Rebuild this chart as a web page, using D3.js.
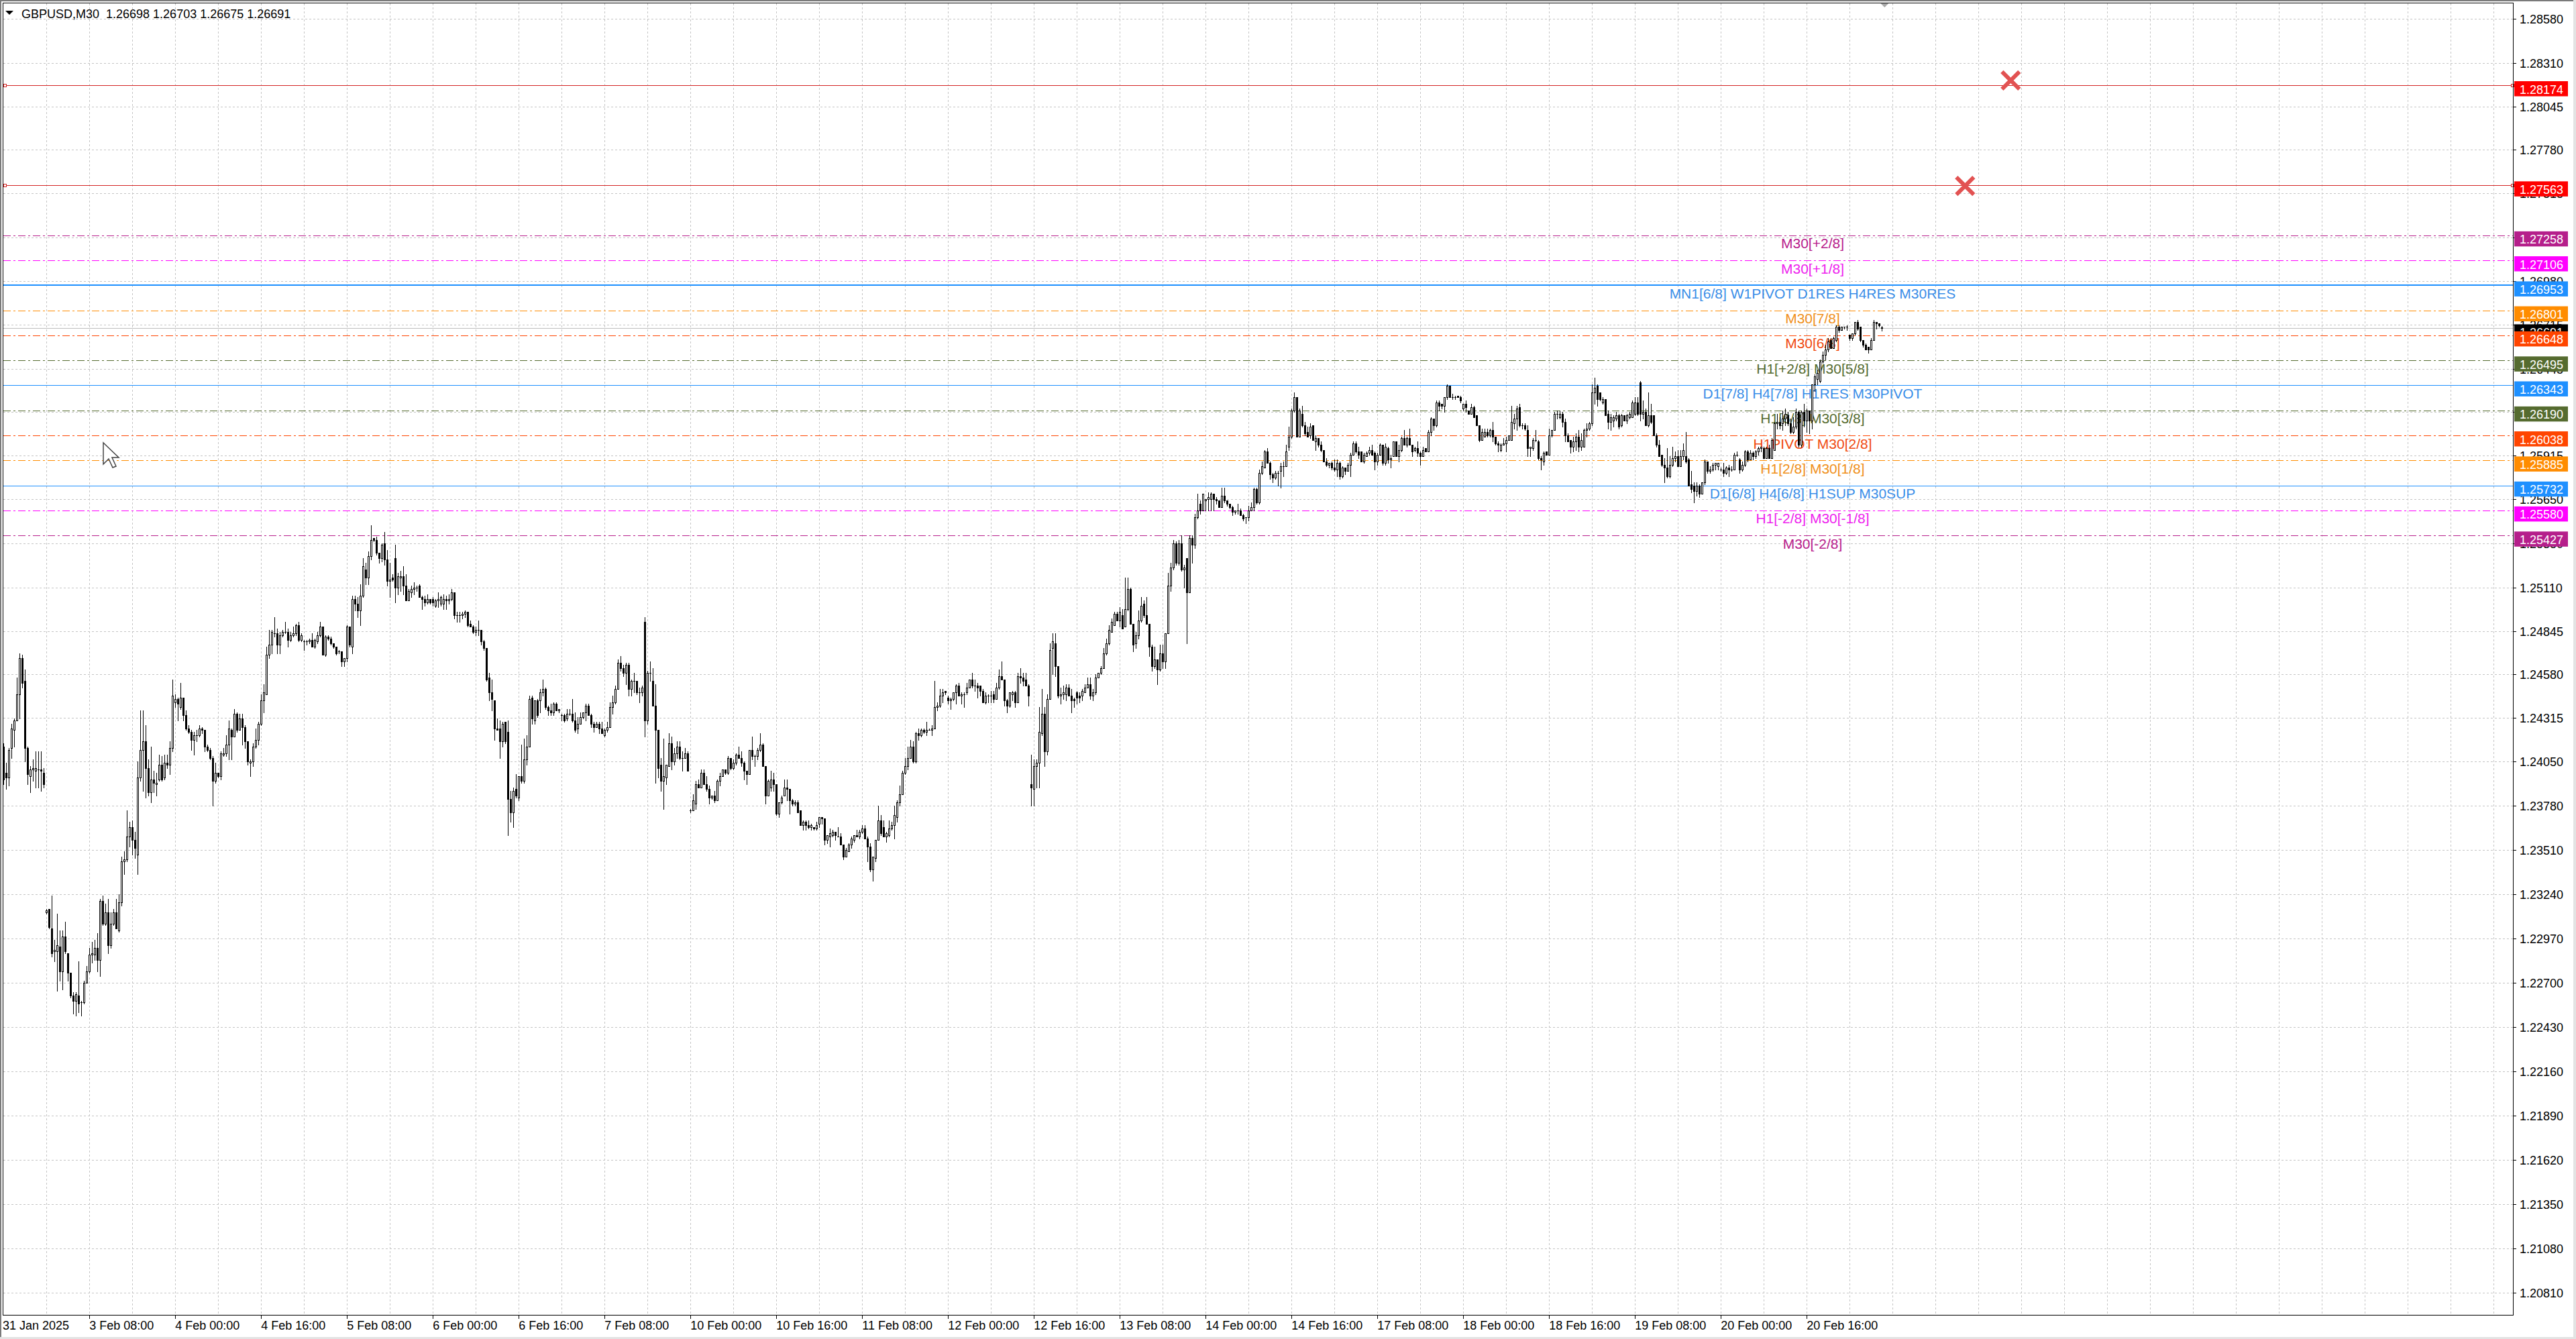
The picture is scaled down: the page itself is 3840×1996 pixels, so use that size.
<!DOCTYPE html>
<html><head><meta charset="utf-8">
<script src="https://cdn.jsdelivr.net/npm/d3@7/dist/d3.min.js"></script>
<style>html,body{margin:0;padding:0;background:#fff;overflow:hidden}svg{display:block}</style>
</head><body>
<svg id="chart" width="3840" height="1996"></svg>
<script>
// ---------------- DATA ----------------
const titleText = "GBPUSD,M30  1.26698 1.26703 1.26675 1.26691";
const timeLabels = ["31 Jan 2025","3 Feb 08:00","4 Feb 00:00","4 Feb 16:00","5 Feb 08:00","6 Feb 00:00","6 Feb 16:00","7 Feb 08:00","10 Feb 00:00","10 Feb 16:00","11 Feb 08:00","12 Feb 00:00","12 Feb 16:00","13 Feb 08:00","14 Feb 00:00","14 Feb 16:00","17 Feb 08:00","18 Feb 00:00","18 Feb 16:00","19 Feb 08:00","20 Feb 00:00","20 Feb 16:00"];
const timeLabelBars = [0,32,64,96,128,160,192,224,256,288,320,352,384,416,448,480,512,544,576,608,640,672];
const priceTicks = [1.28580,1.28310,1.28045,1.27780,1.27515,1.27245,1.26980,1.26715,1.26445,1.26180,1.25915,1.25650,1.25380,1.25110,1.24845,1.24580,1.24315,1.24050,1.23780,1.23510,1.23240,1.22970,1.22700,1.22430,1.22160,1.21890,1.21620,1.21350,1.21080,1.20810];
const levelPrices = [1.28174,1.27563,1.27258,1.27106,1.26953,1.26801,1.26648,1.26495,1.26343,1.26190,1.26038,1.25885,1.25732,1.25580,1.25427];
const levelNames = ["","","M30[+2/8]","M30[+1/8]","MN1[6/8] W1PIVOT D1RES H4RES M30RES","M30[7/8]","M30[6/8]","H1[+2/8] M30[5/8]","D1[7/8] H4[7/8] H1RES M30PIVOT","H1[6/8] M30[3/8]","H1PIVOT M30[2/8]","H1[2/8] M30[1/8]","D1[6/8] H4[6/8] H1SUP M30SUP","H1[-2/8] M30[-1/8]","M30[-2/8]"];
const levelKinds = ["red","red","mvr","mag","blueThick","orange","orangeRed","olive","blue","olive","orangeRed","orange","blue","mag","mvr"];
const lastPrice = 1.26691;
const crossMarkBars = [748,731];
const crossMarkPrices = [1.28203,1.27560];
// candle prices in pips above 1.2000 (bar 0 = 31 Jan 16:00, M30)
const opens = [
414,398,395,413,424,430,446,468,454,413,396,400,399,400,400,398,313,315,303,289,
289,292,277,298,288,276,262,259,262,258,258,270,277,287,287,291,284,320,306,313,
293,306,313,302,319,344,345,359,365,357,348,395,412,417,401,386,394,391,394,403,
395,404,403,413,441,443,438,444,433,425,423,418,421,421,425,424,414,412,407,393,
398,396,409,410,415,424,420,434,424,431,426,417,404,405,414,418,428,442,446,470,
476,483,483,476,482,484,484,479,482,483,488,479,478,478,478,479,475,478,482,487,
470,481,480,477,475,472,472,466,468,487,475,504,501,497,506,522,517,530,541,540,
532,529,538,528,515,517,529,511,517,518,512,503,508,510,511,512,505,504,502,504,
504,500,503,501,501,504,503,504,508,494,494,494,495,496,489,487,484,485,485,478,
474,456,447,442,425,425,417,429,423,382,374,388,383,396,393,406,414,444,430,442,
442,447,449,438,436,435,440,436,433,433,431,434,434,430,425,428,432,435,439,433,
428,426,428,425,421,424,426,438,441,449,465,462,459,464,449,454,454,447,447,490,
430,459,454,439,424,403,393,395,402,416,405,410,414,407,407,410,375,375,379,391,
389,398,391,388,383,384,381,393,396,400,398,407,401,404,409,407,404,399,397,412,
408,408,412,415,402,384,389,394,391,373,380,384,389,388,381,379,380,375,366,368,
366,365,365,364,367,371,370,357,359,360,362,359,359,354,347,350,354,357,360,359,
362,364,358,353,339,346,357,369,365,359,360,364,366,371,380,385,398,402,407,414,
405,422,421,424,423,424,424,425,438,439,445,448,444,442,443,447,451,445,446,447,
450,455,451,451,451,448,441,445,445,446,443,450,457,455,442,439,446,447,441,457,
456,455,451,391,388,402,404,422,434,411,443,474,477,463,445,446,446,450,445,443,
447,445,445,447,450,452,445,447,456,459,462,471,477,484,488,495,491,494,487,498,
510,489,477,482,491,501,494,489,475,463,467,461,471,466,483,512,523,538,526,538,
522,529,508,541,537,554,562,558,564,565,565,568,565,564,560,567,564,562,560,557,
558,558,555,554,554,558,560,571,563,581,584,594,587,580,578,581,582,585,585,597,
603,619,627,603,617,610,606,604,610,600,602,598,595,588,586,587,584,583,587,579,
584,582,586,592,599,594,594,588,591,593,595,593,588,592,598,587,596,589,591,600,
591,595,602,598,602,598,595,596,593,591,596,594,606,614,610,624,623,622,627,634,
627,627,628,627,620,623,619,617,621,616,610,601,603,606,604,607,603,599,595,598,
599,601,601,611,614,621,610,610,607,596,596,601,600,590,588,594,592,604,607,617,
615,617,612,604,601,597,600,603,597,597,607,608,611,630,634,630,624,626,617,612,
613,614,616,610,616,613,615,615,617,624,636,617,618,610,616,616,604,598,592,586,
584,579,586,590,591,585,591,591,589,574,573,570,573,568,575,588,582,583,586,585,
583,583,581,584,583,583,592,589,583,586,594,589,593,591,594,596,596,590,596,590,
595,611,612,611,614,616,611,606,609,618,598,618,613,619,613,635,638,637,649,653,
656,662,657,662,670,668,670,670,665,663,666,673,670,662,659,658,656,662,673,672,
669.8];
const highs = [
416,404,413,428,431,456,471,470,461,414,402,406,411,411,411,401,315,315,323,296,
312,302,302,307,288,276,264,264,283,259,271,280,291,295,296,300,321,323,318,321,
313,315,321,324,347,350,375,368,369,362,405,436,436,427,406,414,399,398,409,408,
409,409,417,455,446,444,453,444,436,427,424,423,424,427,426,424,415,413,408,404,
398,411,413,421,430,425,437,435,434,434,427,417,406,416,425,429,446,452,475,485,
485,493,486,484,485,490,486,484,487,489,490,483,479,479,480,483,480,484,490,487,
482,482,481,477,475,473,472,468,488,487,506,506,505,513,529,526,533,549,541,542,
532,538,545,534,526,519,537,520,521,524,519,510,512,514,512,513,506,506,507,504,
505,504,508,506,507,506,507,510,508,496,496,496,497,496,491,488,487,491,485,479,
474,459,455,442,431,430,429,429,430,387,389,397,396,415,419,421,445,445,442,443,
449,455,450,439,440,441,441,437,434,434,437,437,443,435,432,435,435,440,440,434,
429,429,429,429,425,429,441,445,451,467,469,464,465,465,455,459,454,450,451,493,
460,466,462,452,424,407,419,403,422,420,413,417,417,411,413,411,376,385,393,394,
400,400,396,390,384,387,394,398,400,400,408,407,406,410,414,411,405,399,412,420,
409,413,422,416,402,394,399,398,391,380,384,394,394,388,382,381,381,375,369,369,
369,367,365,368,371,371,370,360,364,363,362,365,361,354,352,355,359,360,363,363,
366,366,359,355,347,357,378,372,369,362,369,368,378,381,390,399,407,414,418,417,
423,425,425,425,429,425,427,454,441,449,449,448,445,444,447,452,453,447,447,453,
455,459,455,453,451,449,447,446,448,448,453,461,466,455,443,447,448,448,459,462,
459,459,452,409,406,406,438,449,438,446,477,483,483,463,450,451,452,452,449,444,
448,447,449,452,456,456,449,458,459,463,474,480,488,492,496,496,499,498,517,517,
511,489,484,497,505,503,505,489,476,475,467,476,476,483,520,526,540,539,540,543,
525,529,543,543,556,568,564,568,565,569,569,568,566,564,572,572,564,562,561,558,
562,559,556,554,561,563,572,572,583,588,595,596,588,581,582,582,587,588,598,609,
620,630,627,620,622,612,609,611,610,604,602,600,595,590,587,588,589,589,588,585,
584,587,593,600,600,597,594,593,594,597,598,594,593,599,598,599,597,592,600,600,
598,603,607,603,608,598,597,600,594,597,596,607,615,614,625,625,623,627,635,634,
629,628,628,628,623,625,619,623,622,616,610,608,608,608,608,612,603,600,599,602,
603,604,622,617,622,623,611,611,610,597,602,607,601,591,594,594,608,607,618,619,
619,618,614,605,601,603,605,607,605,608,611,612,635,639,635,630,627,626,619,617,
616,618,617,617,616,617,618,625,627,627,637,625,620,630,623,616,605,601,592,590,
596,591,597,594,595,595,599,606,590,582,575,575,574,575,589,588,585,587,587,587,
584,587,585,586,585,593,594,590,588,595,595,595,594,595,597,597,597,597,598,602,
612,617,615,619,620,618,614,615,620,619,619,623,620,619,635,641,644,650,655,659,
663,663,664,671,671,670,670,671,665,666,673,674,670,662,660,658,663,674,673,672,
670.3];
const lows = [
391,388,390,407,414,430,431,450,405,391,386,393,389,389,387,389,312,303,286,283,
265,271,266,288,271,261,251,250,252,250,257,270,276,282,284,277,274,305,305,288,
291,305,303,301,317,336,344,353,348,346,336,393,387,383,384,380,386,384,393,393,
394,401,397,411,438,430,437,430,424,422,412,409,417,420,422,411,411,406,378,392,
395,394,408,408,406,406,420,423,424,415,413,403,396,402,413,415,427,435,446,468,
471,481,471,471,481,483,475,478,481,482,478,478,473,476,477,475,474,477,481,470,
469,479,476,474,470,471,463,463,466,475,471,497,493,488,505,513,513,528,539,531,
526,527,525,512,505,515,502,507,509,507,503,503,505,507,509,505,498,500,501,501,
500,499,499,500,498,498,501,503,492,490,490,492,493,487,487,483,482,482,476,473,
454,442,436,418,424,407,414,416,360,368,365,383,381,392,392,403,414,428,428,432,
435,445,437,433,433,433,436,435,430,429,430,433,429,423,422,428,431,430,433,426,
423,426,422,422,420,423,426,434,440,449,460,457,452,445,445,447,446,441,445,420,
428,454,439,392,395,387,376,391,402,400,403,407,406,399,407,399,374,375,376,389,
389,391,387,379,382,380,381,390,396,397,397,400,400,403,407,402,394,391,397,406,
402,406,411,402,379,384,387,387,372,371,379,384,381,373,378,378,374,366,363,363,
364,363,363,363,365,367,354,355,353,359,357,359,354,345,347,350,352,356,359,358,
361,358,344,338,332,344,357,360,359,356,359,363,358,368,378,385,397,400,407,404,
404,418,420,422,421,424,421,425,436,438,441,446,440,437,442,440,445,440,438,446,
450,450,448,444,445,441,440,441,441,441,443,449,455,439,435,438,442,438,441,453,
451,451,439,378,378,389,389,421,402,409,443,458,457,444,440,443,442,445,435,438,
440,441,442,447,450,443,442,446,456,458,462,470,476,484,488,491,487,486,487,497,
489,472,474,480,490,493,489,469,460,462,452,460,462,462,483,509,522,525,525,521,
511,477,508,526,535,553,556,558,558,558,558,558,562,560,560,563,561,559,555,556,
556,555,552,550,552,558,558,562,562,580,584,587,577,575,577,573,572,579,585,595,
602,618,603,603,609,604,603,602,601,595,597,594,588,585,584,583,582,579,577,578,
580,582,579,592,593,590,588,587,591,592,592,583,586,592,586,586,587,584,591,591,
588,594,598,597,598,591,594,591,586,591,594,594,604,607,609,619,620,618,626,627,
626,626,627,624,619,618,617,617,615,610,600,601,603,603,603,600,598,594,594,598,
594,601,601,608,607,609,608,607,591,591,595,600,589,583,586,592,592,603,607,614,
614,609,600,600,593,594,595,594,595,597,603,607,610,623,622,625,623,616,608,607,
609,613,608,609,613,611,614,615,616,616,613,614,610,609,611,604,597,591,585,575,
578,578,585,588,585,585,589,587,573,569,563,567,566,568,574,581,581,582,583,583,
582,579,580,579,582,583,591,581,582,585,588,589,589,590,592,594,590,590,590,590,
595,608,608,607,610,610,605,605,608,597,597,609,606,605,608,631,635,636,648,650,
655,657,657,661,667,668,669,668,662,662,665,668,661,658,656,654,656,662,669,670,
667.5];
const closes = [
394,395,412,425,430,446,468,453,413,397,400,401,401,400,399,391,314,304,288,290,
293,277,298,289,276,262,259,263,257,258,270,277,287,288,291,284,320,306,313,293,
306,313,303,319,344,345,359,365,357,352,395,412,417,401,386,394,392,392,403,394,
404,403,413,445,443,440,444,433,425,423,418,421,421,425,424,414,412,407,393,398,
396,410,410,415,425,420,434,424,431,426,417,405,405,414,418,428,442,447,470,476,
484,483,476,482,484,484,479,482,483,488,479,482,478,478,479,475,479,482,487,470,
481,480,477,475,471,472,466,468,487,476,504,501,497,506,524,517,530,540,540,532,
529,537,528,515,516,516,511,518,518,512,503,509,510,511,511,505,504,502,504,502,
502,503,504,505,504,503,504,508,494,494,494,495,496,488,487,484,485,485,478,474,
455,447,443,425,424,417,428,417,382,374,387,384,396,393,406,414,443,431,442,433,
447,449,438,436,435,440,436,437,433,430,434,434,430,424,428,432,435,439,433,428,
426,428,425,422,424,426,438,441,449,465,462,459,464,449,454,454,447,447,450,430,
459,459,439,424,401,393,396,403,416,405,410,414,407,407,410,399,375,381,391,389,
398,391,388,383,384,381,393,396,400,398,407,401,404,409,407,404,399,397,412,408,
408,412,415,402,384,393,394,391,373,380,383,389,388,381,379,380,374,366,368,366,
365,366,364,366,371,370,357,360,361,362,360,359,354,347,351,354,358,360,359,362,
364,358,353,339,347,357,369,361,359,361,364,366,372,380,385,398,402,407,414,405,
422,421,424,423,424,424,425,438,439,445,447,447,442,443,447,451,445,446,446,450,
455,451,451,450,448,441,445,445,445,443,450,457,455,442,439,447,447,441,457,456,
454,451,445,389,402,404,423,434,411,443,473,478,463,445,446,447,450,445,442,442,
444,444,448,450,452,445,447,456,459,462,471,477,485,490,495,491,496,486,498,510,
489,476,482,491,500,494,489,475,463,467,461,471,466,483,512,523,538,526,538,522,
523,508,541,537,554,558,558,568,565,566,568,565,564,560,567,564,562,560,557,558,
558,555,553,554,558,560,571,563,581,585,594,587,580,578,581,581,585,585,594,603,
619,627,603,619,610,605,603,609,601,602,598,595,588,586,587,584,583,587,579,584,
582,586,592,599,594,592,588,592,593,595,592,588,592,598,587,597,589,590,600,591,
595,602,598,602,598,594,596,593,591,595,594,606,614,610,624,622,622,627,634,627,
627,627,627,625,623,621,617,621,615,610,601,606,606,604,607,603,599,598,598,599,
601,604,612,614,620,610,610,608,596,597,601,601,590,589,593,592,604,607,617,617,
617,612,604,600,597,600,603,597,601,607,608,611,630,633,626,626,626,616,612,615,
615,616,609,616,613,616,617,624,624,617,617,618,610,616,612,604,598,591,586,584,
579,586,590,591,585,591,595,588,573,571,570,573,568,575,588,582,583,586,587,587,
583,581,584,583,583,592,592,583,586,594,589,593,591,594,596,597,590,596,590,601,
611,612,610,614,617,611,606,609,618,598,618,613,619,613,635,640,642,649,653,656,
661,657,663,670,668,670,670,670,663,666,673,669,662,659,656,656,662,673,672,671,
669.1];

// ---------------- STYLE ----------------
const W = 3840, H = 1996;
const plot = {left: 4, top: 4, right: 3747, bottom: 1961};
const FONT = "'Liberation Sans', Arial, sans-serif";
const kindStyle = {
  red:       {line: "#D42424", text: "#D42424", bg: "#FF0000", dash: null, width: 1},
  mvr:       {line: "#B8208C", text: "#B8208C", bg: "#B51F8B", dash: "11,4,3,4", width: 1},
  mag:       {line: "#FF00FF", text: "#EE22EE", bg: "#FF00FF", dash: "11,4,3,4", width: 1},
  blueThick: {line: "#1E90FF", text: "#3A8EE8", bg: "#1E90FF", dash: null, width: 2},
  blue:      {line: "#1E90FF", text: "#3A8EE8", bg: "#1E90FF", dash: null, width: 1},
  orange:    {line: "#FF8C00", text: "#F0901A", bg: "#FF8C00", dash: "11,4,3,4", width: 1},
  orangeRed: {line: "#FF4500", text: "#F04A10", bg: "#FF4500", dash: "11,4,3,4", width: 1},
  olive:     {line: "#556B2F", text: "#556B2F", bg: "#556B2F", dash: "11,4,3,4", width: 1}
};

// ---------------- SCALES ----------------
const nBars = Math.min(opens.length, highs.length, lows.length, closes.length);
const toPrice = v => 1.2 + v / 10000;
const x = d3.scaleLinear().domain([0, 700]).range([5.3, 2805.3]);
const y = d3.scaleLinear().domain([1.20810, 1.28580]).range([1926.6, 27.8]);

const svg = d3.select("#chart");
svg.append("rect").attr("width", W).attr("height", H).attr("fill", "#fff");

// grid
const grid = svg.append("g").attr("shape-rendering", "crispEdges")
  .attr("stroke", "#C4C4C4").attr("stroke-width", 1).attr("stroke-dasharray", "3,3");
grid.selectAll("line.h").data(priceTicks).join("line")
  .attr("x1", plot.left + 1).attr("x2", plot.right - 1)
  .attr("y1", d => Math.round(y(d)) + 0.5).attr("y2", d => Math.round(y(d)) + 0.5);
const vGrid = d3.range(1, 60).map(k => 16 * k).filter(b => x(b) < plot.right - 2);
grid.selectAll("line.v").data(vGrid).join("line")
  .attr("x1", d => Math.round(x(d)) + 0.5).attr("x2", d => Math.round(x(d)) + 0.5)
  .attr("y1", plot.top + 1).attr("y2", plot.bottom - 1);

// level lines
const levels = levelPrices.map((p, i) => ({p, name: levelNames[i], s: kindStyle[levelKinds[i]]}));
const lg = svg.append("g").attr("shape-rendering", "crispEdges");
lg.selectAll("line").data(levels).join("line")
  .attr("x1", plot.left + 1).attr("x2", plot.right - 1)
  .attr("y1", d => d.s.width === 2 ? Math.round(y(d.p)) : Math.round(y(d.p)) + 0.5)
  .attr("y2", d => d.s.width === 2 ? Math.round(y(d.p)) : Math.round(y(d.p)) + 0.5)
  .attr("stroke", d => d.s.line).attr("stroke-width", d => d.s.width)
  .attr("stroke-dasharray", d => d.s.dash);
// current price line
lg.append("line").attr("x1", plot.left + 1).attr("x2", plot.right - 1)
  .attr("y1", Math.round(y(lastPrice)) + 0.5).attr("y2", Math.round(y(lastPrice)) + 0.5)
  .attr("stroke", "#BEBEBE").attr("stroke-width", 1);
// anchor squares on red lines
const redLv = levels.filter(d => d.s === kindStyle.red);
[plot.left + 1, plot.right - 4].forEach(ax => {
  lg.selectAll(null).data(redLv).join("rect")
    .attr("x", ax + 0.5).attr("y", d => Math.round(y(d.p)) - 2 + 0.5)
    .attr("width", 4).attr("height", 4)
    .attr("fill", "#fff").attr("stroke", "#D42424");
});

// level texts
svg.append("g").selectAll("text").data(levels.filter(d => d.name)).join("text")
  .attr("x", 2702).attr("y", d => y(d.p) + 19.5)
  .attr("text-anchor", "middle").attr("font-family", FONT).attr("font-size", 21)
  .attr("fill", d => d.s.text).text(d => d.name);

// candles
const candles = d3.range(nBars).map(i => ({
  i, o: toPrice(opens[i]), h: toPrice(highs[i]), l: toPrice(lows[i]), c: toPrice(closes[i])
}));
const cg = svg.append("g").attr("shape-rendering", "crispEdges");
cg.selectAll("line").data(candles).join("line")
  .attr("x1", d => Math.round(x(d.i)) + 0.5).attr("x2", d => Math.round(x(d.i)) + 0.5)
  .attr("y1", d => Math.round(y(d.h))).attr("y2", d => Math.round(y(d.l)) + 1)
  .attr("stroke", "#000").attr("stroke-width", 1);
cg.selectAll("rect").data(candles).join("rect")
  .each(function(d) {
    const xi = Math.round(x(d.i));
    const yt = Math.round(y(Math.max(d.o, d.c)));
    const yb = Math.round(y(Math.min(d.o, d.c)));
    const sel = d3.select(this);
    if (d.c > d.o && yb - yt >= 2) {
      sel.attr("x", xi - 0.5).attr("y", yt + 0.5).attr("width", 2).attr("height", yb - yt)
        .attr("fill", "#fff").attr("stroke", "#000").attr("stroke-width", 1);
    } else {
      sel.attr("x", xi - 1).attr("y", yt).attr("width", 3).attr("height", Math.max(1, yb - yt + 1))
        .attr("fill", "#000");
    }
  });

// red cross marks
const xm = svg.append("g").attr("stroke", "#E25252").attr("stroke-width", 6);
crossMarkBars.forEach((b, k) => {
  const cx = x(b), cy = y(crossMarkPrices[k]), r = 13;
  xm.append("line").attr("x1", cx - r).attr("y1", cy - r).attr("x2", cx + r).attr("y2", cy + r);
  xm.append("line").attr("x1", cx - r).attr("y1", cy + r).attr("x2", cx + r).attr("y2", cy - r);
});

// chart shift marker
svg.append("path").attr("d", `M${x(700)-3},4 L${x(700)+11},4 L${x(700)+4},11 Z`).attr("fill", "#A8A8A8");

// mouse cursor
const cur = [[0,0],[0,32],[8,24],[14,37],[19,35],[13,22],[23,22]];
svg.append("path").attr("d", "M" + cur.map(p => (p[0] + 154) + "," + (p[1] + 660)).join("L") + "Z")
  .attr("fill", "#fff").attr("stroke", "#444").attr("stroke-width", 1.5);

// axes area background (right)
svg.append("rect").attr("x", plot.right + 1).attr("y", 0).attr("width", W - plot.right).attr("height", H).attr("fill", "#fff");
svg.append("rect").attr("x", 0).attr("y", plot.bottom + 1).attr("width", W).attr("height", H - plot.bottom).attr("fill", "#fff");

// frame
svg.append("rect").attr("x", plot.left + 0.5).attr("y", plot.top + 0.5)
  .attr("width", plot.right - plot.left - 1).attr("height", plot.bottom - plot.top - 1)
  .attr("fill", "none").attr("stroke", "#000").attr("stroke-width", 1).attr("shape-rendering", "crispEdges");

// price axis ticks + labels
const pa = svg.append("g");
pa.selectAll("line").data(priceTicks).join("line")
  .attr("x1", plot.right).attr("x2", plot.right + 4)
  .attr("y1", d => Math.round(y(d)) + 0.5).attr("y2", d => Math.round(y(d)) + 0.5)
  .attr("stroke", "#000").attr("shape-rendering", "crispEdges");
pa.selectAll("text").data(priceTicks).join("text")
  .attr("x", 3756).attr("y", d => y(d) + 7)
  .attr("font-family", FONT).attr("font-size", 18).attr("fill", "#000")
  .text(d => d.toFixed(5));

// price labels for levels
const labelData = [{p: lastPrice, bg: "#000"}].concat(levels.map(d => ({p: d.p, bg: d.s.bg})));
const pl = svg.append("g");
labelData.forEach(d => {
  const ly = y(d.p);
  pl.append("rect").attr("x", 3748).attr("y", ly - 6).attr("width", 80).attr("height", 22.5).attr("fill", d.bg);
  pl.append("text").attr("x", 3756).attr("y", ly + 12.5)
    .attr("font-family", FONT).attr("font-size", 18).attr("fill", "#fff").text(d.p.toFixed(5));
});

// time axis
const ta = svg.append("g");
ta.selectAll("line").data(timeLabelBars.slice(1)).join("line")
  .attr("x1", d => Math.round(x(d)) + 0.5).attr("x2", d => Math.round(x(d)) + 0.5)
  .attr("y1", plot.bottom).attr("y2", plot.bottom + 5)
  .attr("stroke", "#000").attr("shape-rendering", "crispEdges");
ta.selectAll("text").data(timeLabels).join("text")
  .attr("x", (d, i) => i === 0 ? 4 : x(timeLabelBars[i]))
  .attr("y", 1982)
  .attr("font-family", FONT).attr("font-size", 18).attr("fill", "#000").text(d => d);

// title
svg.append("path").attr("d", "M8,16 L20,16 L14,22 Z").attr("fill", "#000");
svg.append("text").attr("x", 32).attr("y", 26.5).attr("font-family", FONT).attr("font-size", 18)
  .attr("fill", "#000").attr("xml:space", "preserve").style("white-space", "pre").text(titleText);

// window border
const wb = svg.append("g").attr("shape-rendering", "crispEdges");
wb.append("rect").attr("x", 0).attr("y", 0).attr("width", W).attr("height", 2).attr("fill", "#7A7A7A");
wb.append("rect").attr("x", 0).attr("y", 0).attr("width", 2).attr("height", H).attr("fill", "#7A7A7A");
wb.append("rect").attr("x", W - 4).attr("y", 0).attr("width", 4).attr("height", H).attr("fill", "#E3E3E3");
wb.append("rect").attr("x", 0).attr("y", H - 3).attr("width", W).attr("height", 3).attr("fill", "#E3E3E3");
</script>
</body></html>
